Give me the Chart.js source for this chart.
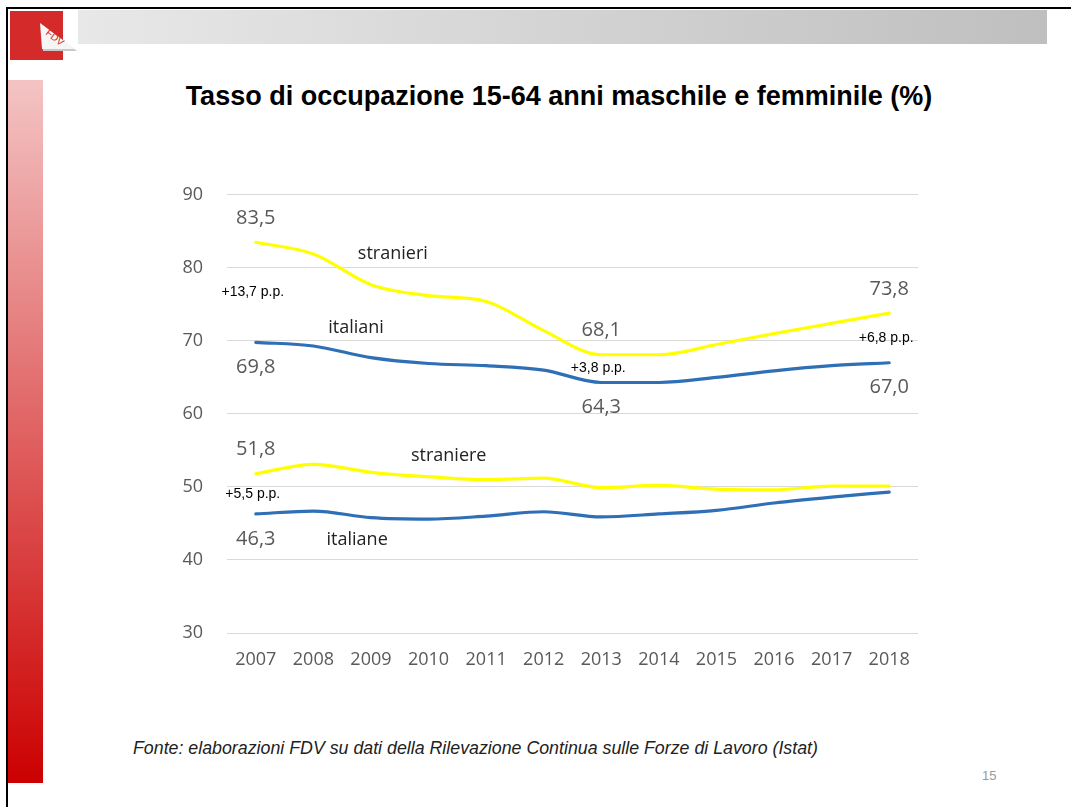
<!DOCTYPE html>
<html>
<head>
<meta charset="utf-8">
<script src="https://cdn.jsdelivr.net/npm/chart.js@4"></script>
<style>
  html, body { margin: 0; padding: 0; background: #fff; }
  body { width: 1071px; height: 807px; position: relative; overflow: hidden; font-family: "Liberation Sans", Arial, sans-serif; }
  #frameTop { position: absolute; left: 6px; top: 7px; width: 1065px; height: 2px; background: #000; }
  #frameLeft { position: absolute; left: 6px; top: 7px; width: 2px; height: 800px; background: #000; }
  #greyBar { position: absolute; left: 78px; top: 10px; width: 969px; height: 34px; background: linear-gradient(to right, #e8e8e8, #bfbfbf); }
  #redBar { position: absolute; left: 8px; top: 80px; width: 35px; height: 703px; background: linear-gradient(to bottom, #f4c4c4, #cc0000); }
  #logo { position: absolute; left: 10px; top: 11px; }
  #title { position: absolute; left: 0; top: 81px; width: 1118px; text-align: center; font-size: 27px; font-weight: bold; color: #000; }
  #chartBox { position: absolute; left: 150px; top: 160px; width: 790px; height: 525px; }
  #source { position: absolute; left: 133px; top: 738px; font-size: 17.8px; font-style: italic; color: #222; }
  #pageNum { position: absolute; left: 982px; top: 768px; font-size: 13px; color: #999; }
</style>
</head>
<body>
<div id="frameTop"></div>
<div id="frameLeft"></div>
<div id="greyBar"></div>
<div id="redBar"></div>
<svg id="logo" width="70" height="55" viewBox="0 0 70 55">
  <rect x="0" y="0" width="53" height="49" fill="#d42a2a"/>
  <polygon points="31,13 67,40 33,40" fill="#c8c8c8"/>
  <polygon points="30,12 65,38 32,38" fill="#f6f6f6"/>
  <text x="0" y="0" transform="translate(35,23) rotate(38)" font-size="10" fill="#d42a2a" font-family="Liberation Sans">FDV</text>
</svg>
<div id="title">Tasso di occupazione 15-64 anni maschile e femminile (%)</div>
<div id="chartBox"><canvas id="occChart"></canvas></div>
<div id="source">Fonte: elaborazioni FDV su dati della Rilevazione Continua sulle Forze di Lavoro (Istat)</div>
<div id="pageNum">15</div>

<script>
var anni = ['2007', '2008', '2009', '2010', '2011', '2012', '2013', '2014', '2015', '2016', '2017', '2018'];
var stranieri = [83.5, 81.9, 77.7, 76.2, 75.4, 71.4, 68.1, 68.1, 69.5, 71.0, 72.4, 73.8];
var italiani  = [69.8, 69.3, 67.7, 66.9, 66.6, 66.0, 64.3, 64.3, 65.0, 65.9, 66.6, 67.0];
var straniere = [51.8, 53.1, 52.0, 51.4, 51.0, 51.2, 49.9, 50.2, 49.7, 49.6, 50.1, 50.1];
var italiane  = [46.3, 46.7, 45.8, 45.6, 46.0, 46.6, 45.9, 46.3, 46.8, 47.8, 48.6, 49.3];
var yTicks = [30, 40, 50, 60, 70, 80, 90];

var BLUE = '#2e6fb6';
var YELLOW = '#ffff00';

function fmt(v) {
    return v.toFixed(1).replace('.', ',');
}

// value labels, series names and the gap (p.p.) between foreign and Italian series
var labelPlugin = {
    id: 'labelPlugin',
    afterDatasetsDraw: function(chart) {
        var ctx = chart.ctx;
        var xs = chart.scales.x;
        var ys = chart.scales.y;
        ctx.save();
        ctx.textAlign = 'center';
        ctx.textBaseline = 'middle';

        chart.data.datasets.forEach(function(ds, di) {
            var meta = chart.getDatasetMeta(di);
            ctx.font = '20px "Open Sans"';
            ctx.fillStyle = '#595959';
            (ds.valueIdx || []).forEach(function(i) {
                var pt = meta.data[i];
                var dy = ds.labelSide === 'above' ? -24 : 25;
                ctx.fillText(fmt(ds.data[i]), pt.x, pt.y + dy);
            });
            ctx.font = '18px "Open Sans"';
            ctx.fillStyle = '#222';
            var nx = xs.getPixelForValue(0) + (xs.getPixelForValue(1) - xs.getPixelForValue(0)) * ds.nameAt[0];
            ctx.fillText(ds.label, nx, ys.getPixelForValue(ds.nameAt[1]));
        });

        // gap between pairs: stranieri/italiani and straniere/italiane
        var pairs = [[0, 1, [0, 6, 11]], [2, 3, [0]]];
        ctx.font = '14px "Liberation Sans"';
        ctx.fillStyle = '#000';
        pairs.forEach(function(p) {
            var a = chart.data.datasets[p[0]].data;
            var b = chart.data.datasets[p[1]].data;
            p[2].forEach(function(i) {
                var mid = (a[i] + b[i]) / 2;
                ctx.fillText('+' + fmt(a[i] - b[i]) + ' p.p.', xs.getPixelForValue(i) - 3, ys.getPixelForValue(mid));
            });
        });
        ctx.restore();
    }
};

new Chart(document.getElementById('occChart'), {
    type: 'line',
    data: {
        labels: anni,
        datasets: [
            { label: 'stranieri', data: stranieri, borderColor: YELLOW, valueIdx: [0, 6, 11], labelSide: 'above', nameAt: [2.38, 81.9] },
            { label: 'italiani', data: italiani, borderColor: BLUE, valueIdx: [0, 6, 11], labelSide: 'below', nameAt: [1.74, 71.8] },
            { label: 'straniere', data: straniere, borderColor: YELLOW, valueIdx: [0], labelSide: 'above', nameAt: [3.35, 54.2] },
            { label: 'italiane', data: italiane, borderColor: BLUE, valueIdx: [0], labelSide: 'below', nameAt: [1.76, 42.8] }
        ]
    },
    options: {
        responsive: true,
        maintainAspectRatio: false,
        animation: false,
        layout: { padding: { top: 4, right: 22, left: 0, bottom: 0 } },
        elements: {
            line: { borderWidth: 3.2, cubicInterpolationMode: 'monotone', borderCapStyle: 'round', fill: false },
            point: { radius: 0, hoverRadius: 0 }
        },
        plugins: {
            legend: { display: false },
            tooltip: { enabled: false }
        },
        scales: {
            x: {
                offset: true,
                grid: { display: false },
                border: { display: false },
                ticks: { color: '#595959', font: { family: 'Open Sans', size: 18 }, padding: 8, maxRotation: 0 },
                afterFit: function(s) { s.height = 52; }
            },
            y: {
                min: 30,
                max: 90,
                afterBuildTicks: function(s) { s.ticks = yTicks.map(function(v) { return { value: v }; }); },
                grid: { color: '#d9d9d9', lineWidth: 1, drawTicks: false },
                border: { display: false },
                ticks: { color: '#595959', font: { family: 'Open Sans', size: 18 }, padding: 24 },
                afterFit: function(s) { s.width = 77; }
            }
        }
    },
    plugins: [labelPlugin]
});
</script>
</body>
</html>
